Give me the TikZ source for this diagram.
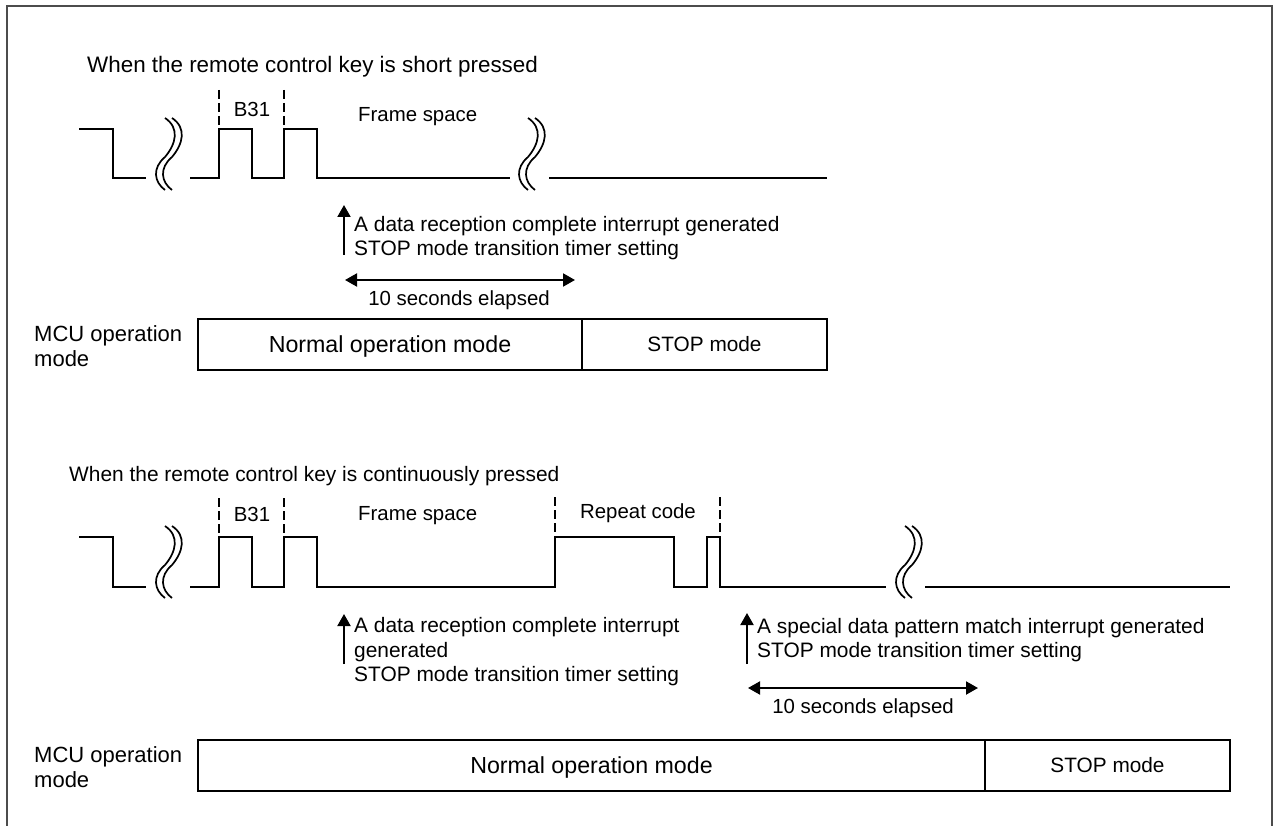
\documentclass[tikz,border=0pt]{standalone}
\usepackage{fontspec}
\setmainfont{Liberation Sans}
\usetikzlibrary{positioning,arrows.meta}

\tikzset{
	label/.style={inner sep=0pt,anchor=west,align=left,yshift=-2pt,font=\fontsize{20.9}{24.5}\selectfont},
	title/.style={label,anchor=center,align=center,font=\fontsize{20.4}{24.5}\selectfont},
	heading/.style={label,font=\fontsize{22.4}{24.5}\selectfont},
	sidelabel/.style={label,font=\fontsize{22}{25}\selectfont},
	modetext/.style={text depth=0pt,font=\fontsize{23.2}{26}\selectfont},
	modebox/.style={draw,line width=2pt,inner sep=0pt,outer sep=0pt,minimum height=51pt,font=\fontsize{20.8}{24}\selectfont},
	wave/.style={line width=2pt},
	marker/.style={line width=1.6pt,dash pattern=on 9pt off 4pt},
	event/.style={line width=2pt,-{Triangle[length=12pt,width=13pt]}},
	elapsed/.style={line width=2pt,{Triangle[length=12pt,width=13pt]}-{Triangle[length=12pt,width=13pt]}},
	breakmark/.pic={
		\draw[line width=1.7pt] (-3,-36) .. controls (12,-26) and (8,-10) .. (-3,3) .. controls (-16,14) and (-14,28) .. (-3,36);
		\draw[line width=1.7pt] (4,-36) .. controls (19,-26) and (15,-10) .. (4,3) .. controls (-9,14) and (-7,28) .. (4,36);
	}
}

\begin{document}
\begin{tikzpicture}[x=1pt,y=-1pt]
	\useasboundingbox (0,0) rectangle (1274,826);
	\draw[line width=1.2pt,black!70] (7,826) -- (7,6) -- (1272,6) -- (1272,826);

	% short press
	\node[heading] (titleA) at (87,65) {When the remote control key is short pressed};
	\draw[marker] (219,90) -- (219,129);
	\draw[marker] (284,90) -- (284,129);
	\node[title] (bitA) at (252,107) {B31};
	\node[title,anchor=west] (spaceA) at (358,115) {Frame space};
	\draw[wave] (79,129) -- (113,129) -- (113,178) -- (146,178);
	\pic at (168,154) {breakmark};
	\draw[wave] (190,178) -- (219,178) -- (219,129) -- (252,129) -- (252,178) -- (284,178) -- (284,129) -- (317,129) -- (317,178) -- (510,178);
	\pic at (531,154) {breakmark};
	\draw[wave] (549,178) -- (827,178);
	\node[label] (eventA) at (354,236) {A data reception complete interrupt generated\\STOP mode transition timer setting};
	\coordinate (eventAtail) at (344,255);
	\coordinate (eventAhead) at (344,205);
	\draw[event] (eventAtail) -- (eventAhead);
	\coordinate (timeAstart) at (345,280);
	\coordinate (timeAend) at (575,280);
	\draw[elapsed] (timeAstart) -- (timeAend);
	\node[title] (timeA) at (459,298) {10 seconds elapsed};
	\node[sidelabel] (mcuA) at (34,344) {MCU operation\\mode};
	\node[modebox,modetext,minimum width=384pt,anchor=west] (normalA) at (198,344) {Normal operation mode};
	\node[modebox,minimum width=245pt,right=0pt of normalA] (stopA) {STOP mode};

	% continuous press
	\node[label] (titleB) at (69,474) {When the remote control key is continuously pressed};
	\draw[marker] (219,498) -- (219,537);
	\draw[marker] (284,498) -- (284,537);
	\draw[marker] (555,497) -- (555,537);
	\draw[marker] (720,497) -- (720,537);
	\node[title] (bitB) at (252,512) {B31};
	\node[title,anchor=west] (spaceB) at (358,514) {Frame space};
	\node[title] (repeatB) at (638,511) {Repeat code};
	\draw[wave] (79,537) -- (113,537) -- (113,587) -- (146,587);
	\pic at (168,562) {breakmark};
	\draw[wave] (190,587) -- (219,587) -- (219,537) -- (252,537) -- (252,587) -- (284,587) -- (284,537) -- (317,537) -- (317,587) -- (555,587) -- (555,537) -- (674,537) -- (674,587) -- (707,587) -- (707,537) -- (720,537) -- (720,587) -- (886,587);
	\pic at (908,562) {breakmark};
	\draw[wave] (925,587) -- (1230,587);
	\node[label] (eventB) at (354,650) {A data reception complete interrupt\\generated\\STOP mode transition timer setting};
	\coordinate (eventBtail) at (344,664);
	\coordinate (eventBhead) at (344,614);
	\draw[event] (eventBtail) -- (eventBhead);
	\node[label] (eventC) at (757,638) {A special data pattern match interrupt generated\\STOP mode transition timer setting};
	\coordinate (eventCtail) at (747,664);
	\coordinate (eventChead) at (747,613);
	\draw[event] (eventCtail) -- (eventChead);
	\coordinate (timeBstart) at (748,688);
	\coordinate (timeBend) at (978,688);
	\draw[elapsed] (timeBstart) -- (timeBend);
	\node[title] (timeB) at (863,706) {10 seconds elapsed};
	\node[sidelabel] (mcuB) at (34,765) {MCU operation\\mode};
	\node[modebox,modetext,minimum width=787pt,anchor=west] (normalB) at (198,765) {Normal operation mode};
	\node[modebox,minimum width=245pt,right=0pt of normalB] (stopB) {STOP mode};
\end{tikzpicture}
\end{document}
